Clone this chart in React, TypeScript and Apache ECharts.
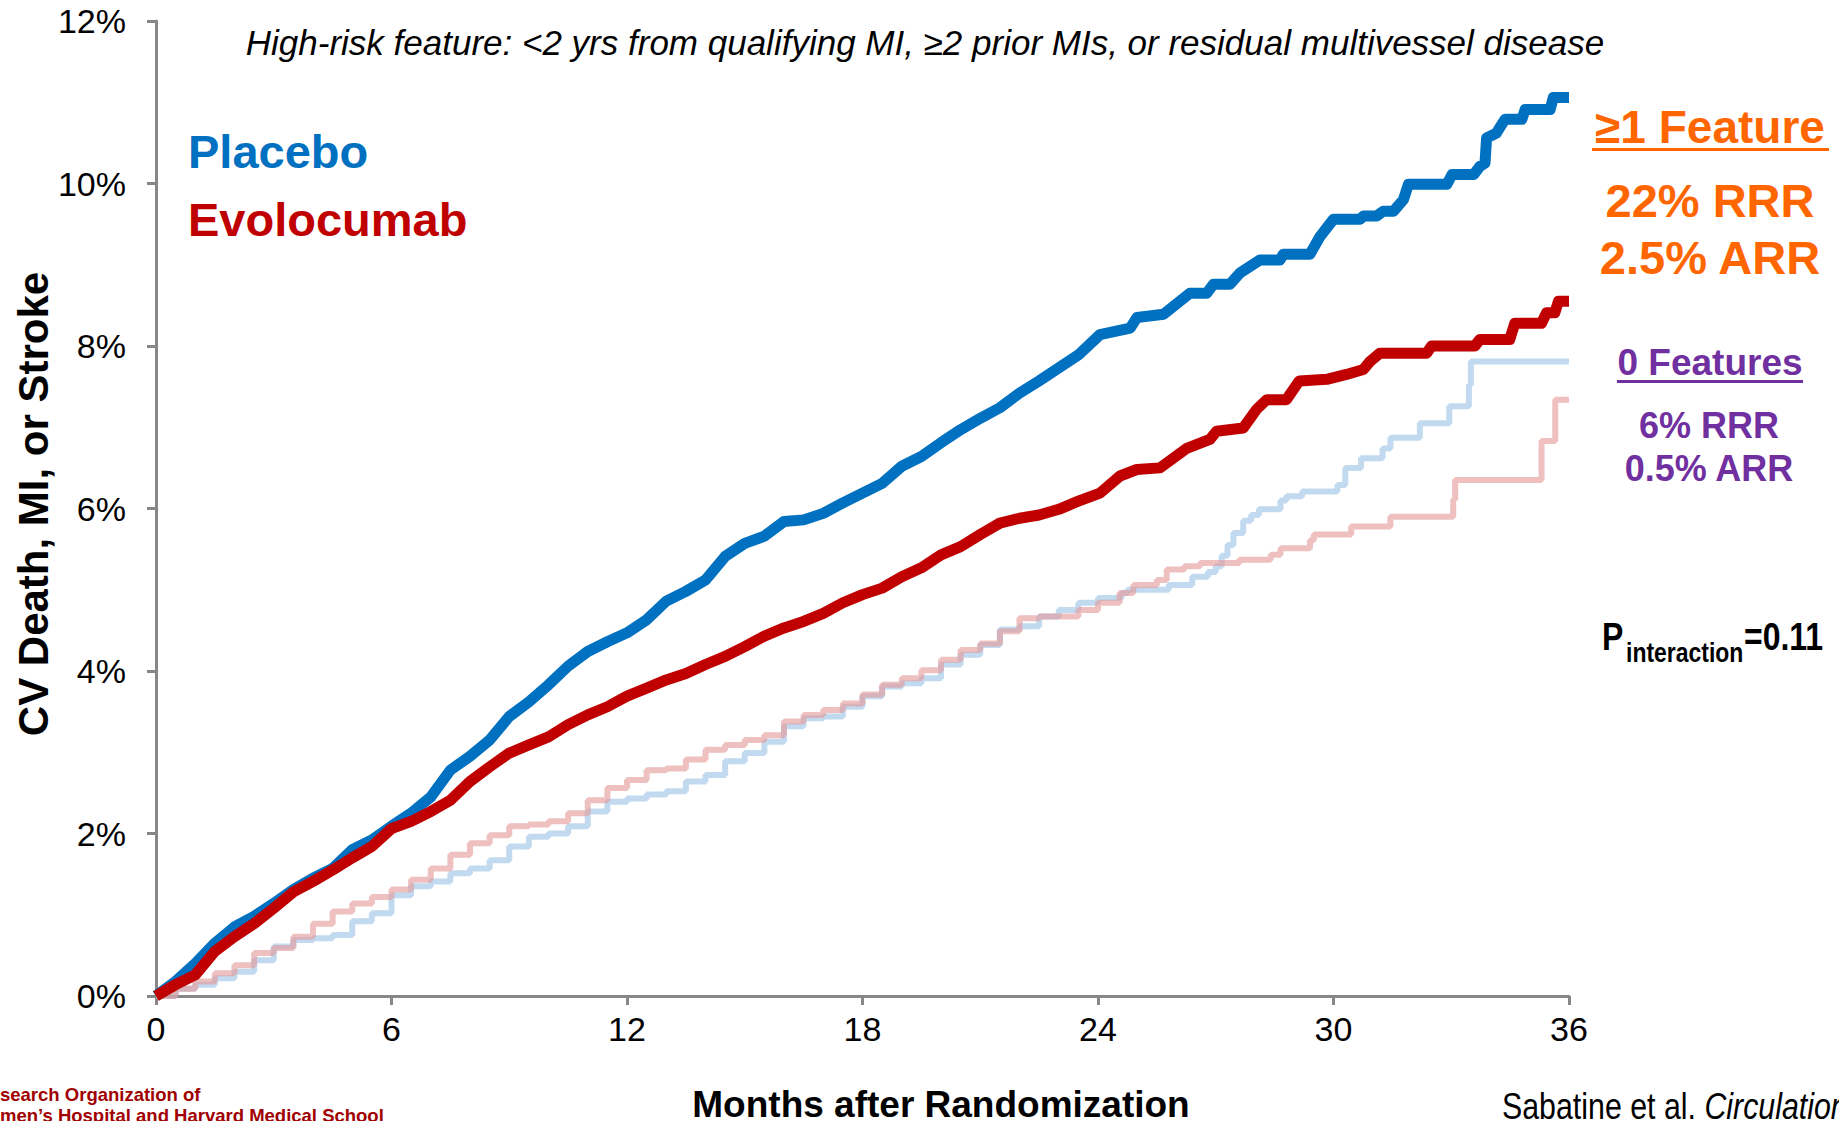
import React, { useEffect, useRef } from "react";
import * as echarts from "echarts";

// ---- Data (months after randomization, cumulative % CV death/MI/stroke) ----
const xTicks = [0, 6, 12, 18, 24, 30, 36];
const yTicks = [0, 2, 4, 6, 8, 10, 12];

// >=1 high-risk feature, placebo (thick blue)
const placeboHigh: [number, number][] = [
  [0, 0], [0.5, 0.18], [1, 0.4], [1.5, 0.65], [2, 0.85], [2.5, 0.98], [3, 1.14], [3.5, 1.31], [4, 1.45], [4.5, 1.57],
  [5, 1.8], [5.5, 1.92], [6, 2.09], [6.5, 2.25], [7, 2.45], [7.5, 2.78], [8, 2.95], [8.5, 3.15], [9, 3.44], [9.5, 3.62],
  [10, 3.83], [10.5, 4.06], [11, 4.24], [11.5, 4.36], [12, 4.47], [12.5, 4.63], [13, 4.86], [13.5, 4.98], [14, 5.12],
  [14.5, 5.41], [15, 5.57], [15.5, 5.66], [16, 5.84], [16.5, 5.86], [17, 5.94], [17.5, 6.07], [18, 6.19], [18.5, 6.31],
  [19, 6.52], [19.5, 6.64], [20, 6.81], [20.5, 6.97], [21, 7.11], [21.5, 7.24], [22, 7.42], [22.5, 7.57], [23, 7.73],
  [23.5, 7.89], [24.05, 8.14], [24.82, 8.22], [24.99, 8.35], [25.67, 8.39], [26.34, 8.65], [26.77, 8.65], [26.94, 8.76],
  [27.36, 8.76], [27.62, 8.9], [28.13, 9.06], [28.64, 9.06], [28.72, 9.13], [29.4, 9.13], [29.66, 9.35], [30.0, 9.56],
  [30.68, 9.56], [30.76, 9.6], [31.1, 9.6], [31.27, 9.66], [31.53, 9.66], [31.78, 9.8], [31.91, 9.99], [32.89, 9.99],
  [33.02, 10.11], [33.57, 10.11], [33.73, 10.21], [33.86, 10.25], [33.9, 10.56], [34.15, 10.62], [34.24, 10.69],
  [34.37, 10.79], [34.8, 10.79], [34.88, 10.91], [35.52, 10.91], [35.6, 11.06], [36, 11.06],
];

// >=1 high-risk feature, evolocumab (thick red)
const evoHigh: [number, number][] = [
  [0, 0], [0.5, 0.14], [1, 0.26], [1.5, 0.55], [2, 0.73], [2.5, 0.89], [3, 1.08], [3.5, 1.28], [4, 1.41], [4.5, 1.55],
  [5, 1.7], [5.5, 1.84], [6, 2.06], [6.5, 2.15], [7, 2.27], [7.5, 2.41], [8, 2.64], [8.5, 2.82], [9, 2.99], [9.5, 3.09],
  [10, 3.19], [10.5, 3.34], [11, 3.46], [11.5, 3.56], [12, 3.69], [12.5, 3.79], [13, 3.89], [13.5, 3.97], [14, 4.08],
  [14.5, 4.18], [15, 4.3], [15.5, 4.43], [16, 4.53], [16.5, 4.61], [17, 4.71], [17.5, 4.84], [18, 4.94], [18.5, 5.02],
  [19, 5.16], [19.5, 5.27], [20, 5.43], [20.5, 5.53], [21, 5.68], [21.5, 5.82], [22, 5.88], [22.5, 5.92], [23, 5.99],
  [23.5, 6.09], [24.05, 6.19], [24.56, 6.4], [24.99, 6.48], [25.58, 6.5], [26.26, 6.74], [26.85, 6.85], [27.02, 6.95],
  [27.7, 6.99], [28.04, 7.22], [28.3, 7.34], [28.8, 7.34], [28.97, 7.46], [29.13, 7.57], [29.83, 7.59], [30.33, 7.65],
  [30.76, 7.71], [30.93, 7.81], [31.18, 7.91], [32.37, 7.91], [32.5, 8.0], [33.6, 8.0], [33.73, 8.08], [34.49, 8.08],
  [34.62, 8.28], [35.3, 8.28], [35.43, 8.41], [35.64, 8.41], [35.73, 8.55], [36, 8.55],
];

// 0 high-risk features, placebo (faint blue)
const placeboLow: [number, number][] = [
  [0, 0], [0.5, 0.09], [1, 0.14], [1.5, 0.22], [2, 0.3], [2.5, 0.44], [3, 0.61], [3.5, 0.69], [4, 0.71], [4.5, 0.75],
  [5, 0.92], [5.5, 1.02], [6, 1.24], [6.5, 1.35], [7, 1.41], [7.5, 1.51], [8, 1.57], [8.5, 1.67], [9, 1.84], [9.5, 1.96],
  [10, 2.0], [10.5, 2.09], [11, 2.27], [11.5, 2.39], [12, 2.43], [12.5, 2.48], [13, 2.52], [13.5, 2.64], [14, 2.72],
  [14.5, 2.89], [15, 2.99], [15.5, 3.13], [16, 3.32], [16.5, 3.42], [17, 3.44], [17.5, 3.56], [18, 3.69], [18.5, 3.81],
  [19, 3.85], [19.5, 3.91], [20, 4.08], [20.5, 4.2], [21, 4.32], [21.5, 4.51], [22, 4.55], [22.5, 4.67], [23, 4.75],
  [23.5, 4.84], [24, 4.9], [24.6, 4.96], [24.75, 5.0], [25.8, 5.06], [26.4, 5.16], [26.8, 5.22], [27.0, 5.29],
  [27.15, 5.42], [27.3, 5.55], [27.45, 5.7], [27.7, 5.85], [27.9, 5.92], [28.1, 5.99], [28.65, 6.1], [28.8, 6.15],
  [29.2, 6.21], [30.1, 6.29], [30.3, 6.5], [30.7, 6.62], [31.25, 6.74], [31.45, 6.87], [32.2, 7.05], [32.95, 7.26],
  [33.45, 7.52], [33.5, 7.81], [36, 7.81],
];

// 0 high-risk features, evolocumab (faint red)
const evoLow: [number, number][] = [
  [0, 0], [0.5, 0.09], [1, 0.18], [1.5, 0.28], [2, 0.38], [2.5, 0.53], [3, 0.59], [3.5, 0.73], [4, 0.89], [4.5, 1.04],
  [5, 1.14], [5.5, 1.22], [6, 1.31], [6.5, 1.43], [7, 1.57], [7.5, 1.74], [8, 1.88], [8.5, 1.98], [9, 2.09], [9.5, 2.11],
  [10, 2.15], [10.5, 2.25], [11, 2.41], [11.5, 2.56], [12, 2.66], [12.5, 2.78], [13, 2.8], [13.5, 2.91], [14, 3.03],
  [14.5, 3.09], [15, 3.15], [15.5, 3.21], [16, 3.38], [16.5, 3.46], [17, 3.52], [17.5, 3.6], [18, 3.71], [18.5, 3.83],
  [19, 3.91], [19.5, 4.01], [20, 4.14], [20.5, 4.26], [21, 4.34], [21.5, 4.49], [22, 4.65], [22.5, 4.67], [23.5, 4.75],
  [24, 4.84], [24.55, 4.96], [24.9, 5.06], [25.5, 5.12], [25.75, 5.25], [26.2, 5.29], [26.6, 5.33], [27.6, 5.37],
  [28.4, 5.43], [28.65, 5.51], [29.4, 5.61], [29.5, 5.68], [30.45, 5.78], [31.45, 5.9], [33.05, 6.11], [33.1, 6.35],
  [35.3, 6.83], [35.65, 7.34], [36, 7.34],
];

const titleText = "High-risk feature: <2 yrs from qualifying MI, \u22652 prior MIs, or residual multivessel disease";
const highLabels = ["\u22651 Feature", "22% RRR", "2.5% ARR"];
const lowLabels = ["0 Features", "6% RRR", "0.5% ARR"];
const pValue = "=0.11";

const SANS = '"Liberation Sans", Arial, Helvetica, sans-serif';
const AXIS_GRAY = "#878787";
const BLUE = "#0070C0";
const RED = "#C00000";
const ORANGE = "#FF6600";
const PURPLE = "#7030A0";
const NARROW_SCALE = 0.82;

export default function App() {
  const ref = useRef<HTMLDivElement>(null);
  useEffect(() => {
    if (!ref.current) return;
    const chart = echarts.init(ref.current, undefined, { renderer: "svg" });
    const txt = (x: number, y: number, text: string, style: any, extra: any = {}) => ({
      type: "text",
      x,
      y,
      ...extra,
      style: { text, align: "center", verticalAlign: "middle", ...style },
    });
    chart.setOption({
      animation: false,
      backgroundColor: "#ffffff",
      grid: { left: 156, right: 270, top: 21, bottom: 125 },
      xAxis: {
        type: "value",
        min: 0,
        max: 36,
        interval: 6,
        axisLine: { show: true, lineStyle: { color: AXIS_GRAY, width: 3 } },
        axisTick: { show: true, length: 9, lineStyle: { color: AXIS_GRAY, width: 3 } },
        splitLine: { show: false },
        axisLabel: {
          color: "#000",
          fontSize: 34,
          fontFamily: SANS,
          margin: 16,
          formatter: (v: number) => (xTicks.includes(v) ? String(v) : ""),
        },
      },
      yAxis: {
        type: "value",
        min: 0,
        max: 12,
        interval: 2,
        axisLine: { show: true, lineStyle: { color: AXIS_GRAY, width: 3 } },
        axisTick: { show: true, length: 9, lineStyle: { color: AXIS_GRAY, width: 3 } },
        splitLine: { show: false },
        axisLabel: {
          color: "#000",
          fontSize: 34,
          fontFamily: SANS,
          margin: 30,
          formatter: (v: number) => (yTicks.includes(v) ? v + "%" : ""),
        },
      },
      series: [
        {
          type: "line",
          name: "Placebo, 0 features",
          data: placeboLow,
          step: "end",
          symbol: "none",
          lineStyle: { color: "#9DC3E6", width: 6, opacity: 0.62 },
          z: 1,
        },
        {
          type: "line",
          name: "Evolocumab, 0 features",
          data: evoLow,
          step: "end",
          symbol: "none",
          lineStyle: { color: "#E49A9A", width: 6, opacity: 0.62 },
          z: 2,
        },
        {
          type: "line",
          name: "Placebo, \u22651 feature",
          data: placeboHigh,
          symbol: "none",
          lineStyle: { color: BLUE, width: 11, join: "round" },
          z: 3,
        },
        {
          type: "line",
          name: "Evolocumab, \u22651 feature",
          data: evoHigh,
          symbol: "none",
          lineStyle: { color: RED, width: 11, join: "round" },
          z: 4,
        },
      ],
      graphic: [
        txt(925, 42, titleText, { font: `italic 35px ${SANS}`, fill: "#000" }),
        txt(188, 151, "Placebo", { font: `bold 47px ${SANS}`, fill: BLUE, align: "left" }),
        txt(188, 219, "Evolocumab", { font: `bold 47px ${SANS}`, fill: RED, align: "left" }),
        txt(1710, 127, highLabels[0], { font: `bold 46px ${SANS}`, fill: ORANGE }),
        { type: "rect", shape: { x: 1592, y: 148, width: 237, height: 3 }, style: { fill: ORANGE } },
        txt(1710, 200, highLabels[1], { font: `bold 47px ${SANS}`, fill: ORANGE }),
        txt(1710, 257, highLabels[2], { font: `bold 47px ${SANS}`, fill: ORANGE }),
        txt(1710, 362, lowLabels[0], { font: `bold 37px ${SANS}`, fill: PURPLE }),
        { type: "rect", shape: { x: 1617, y: 380, width: 186, height: 3 }, style: { fill: PURPLE } },
        txt(1709, 425, lowLabels[1], { font: `bold 36px ${SANS}`, fill: PURPLE }),
        txt(1709, 468, lowLabels[2], { font: `bold 36px ${SANS}`, fill: PURPLE }),
        txt(1602, 637, "P", { font: `bold 39px ${SANS}`, fill: "#000", align: "left" }, { scaleX: NARROW_SCALE }),
        txt(1626, 652, "interaction", { font: `bold 28px ${SANS}`, fill: "#000", align: "left" }, { scaleX: NARROW_SCALE }),
        txt(1744, 637, pValue, { font: `bold 39px ${SANS}`, fill: "#000", align: "left" }, { scaleX: NARROW_SCALE }),
        txt(33, 504, "CV Death, MI, or Stroke", { font: `bold 42px ${SANS}`, fill: "#000" }, { rotation: Math.PI / 2 }),
        txt(941, 1104, "Months after Randomization", { font: `bold 37px ${SANS}`, fill: "#000" }),
        txt(0, 1094, "search Organization of", { font: `bold 18.5px ${SANS}`, fill: "#A00000", align: "left" }),
        txt(0, 1115, "men\u2019s Hospital and Harvard Medical School", { font: `bold 18.5px ${SANS}`, fill: "#A00000", align: "left" }),
        {
          type: "text",
          x: 1502,
          y: 1106,
          scaleX: NARROW_SCALE,
          style: {
            text: "{a|Sabatine et al. }{b|Circulation}",
            align: "left",
            verticalAlign: "middle",
            rich: {
              a: { fontSize: 37, fontFamily: SANS, fill: "#000", color: "#000" },
              b: { fontSize: 37, fontFamily: SANS, fontStyle: "italic", fill: "#000", color: "#000" },
            },
          },
        },
      ],
    });
    return () => chart.dispose();
  }, []);
  return (
    <div
      ref={ref}
      style={{ position: "fixed", left: 0, top: 0, width: 1839, height: 1121, background: "#fff" }}
    />
  );
}
